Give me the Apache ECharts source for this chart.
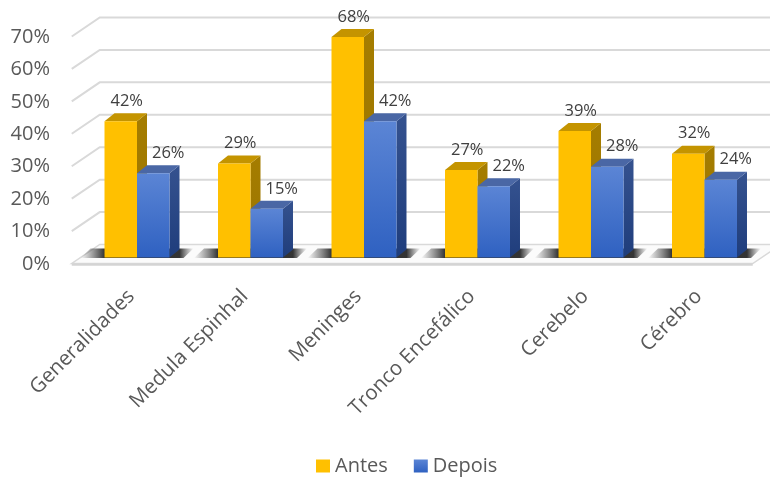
<!DOCTYPE html>
<html>
<head>
<meta charset="utf-8">
<script src="https://cdn.jsdelivr.net/npm/echarts@6/dist/echarts.min.js"></script>
<style>
  html, body { margin: 0; padding: 0; background: #fff; }
  #chart { width: 770px; height: 477px; }
</style>
</head>
<body>
<div id="chart"></div>
<script>
// Chart data
const categories = ['Generalidades', 'Medula Espinhal', 'Meninges', 'Tronco Encefálico', 'Cerebelo', 'Cérebro'];
const antes = [42, 29, 68, 27, 39, 32];
const depois = [26, 15, 42, 22, 28, 24];
const yTicks = [0, 10, 20, 30, 40, 50, 60, 70];
const seriesNames = ['Antes', 'Depois'];

const FONT = '"Open Sans", "Noto Sans", sans-serif';
const TEXT = '#595959';
const GRID_LINE = '#D9D9D9';

// Pseudo-3D geometry (pixel offsets relative to the plane the bar fronts sit on)
const FRONT = { dx: -8.5, dy: 6 };    // front edge of the floor
const BACK = { dx: 19.5, dy: -13 };   // back wall
const BAR_DEPTH = { dx: 10, dy: 8 };  // bar top / side depth
const BAR_FRAC = 0.2863;              // bar width as share of a category band

const blueFront = { type: 'linear', x: 0, y: 0, x2: 0, y2: 1, colorStops: [{ offset: 0, color: '#5B85D5' }, { offset: 1, color: '#2F61C1' }] };

const palette = {
  Antes: {
    front: '#FFC000',
    top: '#C49400',
    side: { type: 'linear', x: 0, y: 0, x2: 0, y2: 1, colorStops: [{ offset: 0, color: '#A57D00' }, { offset: 1, color: '#9A7400' }] },
    labelDx: 6
  },
  Depois: {
    front: blueFront,
    top: '#4A67A5',
    side: { type: 'linear', x: 0, y: 0, x2: 0, y2: 1, colorStops: [{ offset: 0, color: '#35528F' }, { offset: 1, color: '#1F3D7C' }] },
    labelDx: 15
  }
};

function barRenderer(name, offsetSide) {
  const pal = palette[name];
  return function (params, api) {
    const i = api.value(0);
    const v = api.value(1);
    const base = api.coord([i, 0]);
    const top = api.coord([i, v]);
    const band = api.size([1, 0])[0];
    const w = band * BAR_FRAC;
    const x = offsetSide < 0 ? base[0] - w : base[0];
    const yT = top[1], yB = base[1];
    const dx = BAR_DEPTH.dx, dy = BAR_DEPTH.dy;
    return {
      type: 'group',
      children: [
        {
          type: 'polygon',
          shape: { points: [[x + w, yT], [x + w + dx, yT - dy], [x + w + dx, yB - dy], [x + w, yB]] },
          style: { fill: pal.side }
        },
        {
          type: 'polygon',
          shape: { points: [[x, yT], [x + w, yT], [x + w + dx, yT - dy], [x + dx, yT - dy]] },
          style: { fill: pal.top }
        },
        {
          type: 'rect',
          shape: { x: x, y: yT, width: w, height: yB - yT },
          style: { fill: pal.front }
        },
        {
          type: 'text',
          x: x + w / 2 + pal.labelDx,
          y: yT - 20,
          style: {
            text: v + '%',
            fill: '#404040',
            font: '16.5px ' + FONT,
            align: 'center',
            verticalAlign: 'middle'
          }
        }
      ]
    };
  };
}

// Floor, side wall and back wall gridlines
function wallRenderer(params, api) {
  const cs = params.coordSys;
  const v = api.value(1);
  const y = api.coord([0, v])[1];
  const x0 = cs.x;
  const children = [];
  if (v === 0) {
    const xr = cs.x + cs.width;
    children.push({
      type: 'polygon',
      shape: { points: [[x0 + FRONT.dx, y + FRONT.dy], [xr + FRONT.dx, y + FRONT.dy], [xr + BACK.dx, y + BACK.dy], [x0 + BACK.dx, y + BACK.dy]] },
      style: { fill: '#FBFBFB', stroke: GRID_LINE, lineWidth: 1.5 }
    });
    children.push({
      type: 'line',
      shape: { x1: x0 + FRONT.dx, y1: y + FRONT.dy + 1, x2: xr + FRONT.dx, y2: y + FRONT.dy + 1 },
      style: { stroke: '#D4D4D4', lineWidth: 2.5 }
    });
  } else {
    children.push({
      type: 'polyline',
      shape: { points: [[x0 + FRONT.dx, y + FRONT.dy], [x0 + BACK.dx, y + BACK.dy], [800, y + BACK.dy]] },
      style: { stroke: GRID_LINE, lineWidth: 2, fill: null }
    });
  }
  return { type: 'group', children: children };
}

// Soft contact shadows on the floor around each pair of bars
function shadowRenderer(params, api) {
  const i = api.value(0);
  const base = api.coord([i, 0]);
  const band = api.size([1, 0])[0];
  const w = band * BAR_FRAC;
  const xL = base[0] - w, xR = base[0] + w;
  const yB = base[1] + 0.5, yK = base[1] - BAR_DEPTH.dy - 1;
  const left = xL - 24, right = xR + BAR_DEPTH.dx + 14;
  const span = right - left;
  const a = (xL - left) / span, b = (xR + BAR_DEPTH.dx - left) / span;
  return {
    type: 'polygon',
    shape: { points: [[left, yB], [right - BAR_DEPTH.dx, yB], [right, yK], [left + BAR_DEPTH.dx, yK]] },
    style: {
      fill: {
        type: 'linear', x: 0, y: 0, x2: 1, y2: 0,
        colorStops: [
          { offset: 0, color: 'rgba(60,60,60,0)' },
          { offset: a, color: 'rgba(30,30,30,0.9)' },
          { offset: b, color: 'rgba(30,30,30,0.9)' },
          { offset: 1, color: 'rgba(60,60,60,0)' }
        ]
      }
    }
  };
}

const chart = echarts.init(document.getElementById('chart'), null, { renderer: 'canvas' });

chart.setOption({
  backgroundColor: '#fff',
  animation: false,
  legend: {
    data: [
      { name: 'Antes', itemStyle: { color: '#FFC000' } },
      { name: 'Depois', itemStyle: { color: blueFront } }
    ],
    top: 451,
    left: 311,
    icon: 'rect',
    itemWidth: 14,
    itemHeight: 13,
    itemGap: 26,
    textStyle: { fontSize: 20, color: TEXT, fontFamily: FONT }
  },
  grid: [
    { left: 80.25, width: 681, top: 30.5, height: 227 },
    { left: 72, width: 680, top: 37, height: 227 }
  ],
  xAxis: [
    {
      type: 'category', gridIndex: 0, data: categories,
      axisLine: { show: false }, axisTick: { show: false },
      axisLabel: { interval: 0, rotate: 45, margin: 30, padding: [0, 8, 0, 0], fontSize: 20.5, color: TEXT, fontFamily: FONT }
    },
    { type: 'category', gridIndex: 1, data: categories, show: false }
  ],
  yAxis: [
    { type: 'value', gridIndex: 0, min: 0, max: 70, interval: 10, show: false },
    {
      type: 'value', gridIndex: 1, min: 0, max: 70, interval: 10,
      axisLine: { show: false }, axisTick: { show: false }, splitLine: { show: false },
      axisLabel: { formatter: '{value}%', margin: 22, fontSize: 20, color: TEXT, fontFamily: FONT }
    }
  ],
  series: [
    {
      type: 'custom', name: 'walls', xAxisIndex: 0, yAxisIndex: 0, z: 1, silent: true,
      renderItem: wallRenderer,
      data: yTicks.map(v => [0, v])
    },
    {
      type: 'custom', name: 'shadows', xAxisIndex: 0, yAxisIndex: 0, z: 2, silent: true,
      renderItem: shadowRenderer,
      data: categories.map((c, i) => [i, 0])
    },
    {
      type: 'custom', name: seriesNames[0], xAxisIndex: 0, yAxisIndex: 0, z: 3,
      itemStyle: { color: '#FFC000' },
      renderItem: barRenderer('Antes', -1),
      encode: { x: 0, y: 1 },
      data: antes.map((v, i) => [i, v])
    },
    {
      type: 'custom', name: seriesNames[1], xAxisIndex: 0, yAxisIndex: 0, z: 4,
      itemStyle: { color: '#4472C4' },
      renderItem: barRenderer('Depois', 1),
      encode: { x: 0, y: 1 },
      data: depois.map((v, i) => [i, v])
    }
  ]
});
</script>
</body>
</html>
